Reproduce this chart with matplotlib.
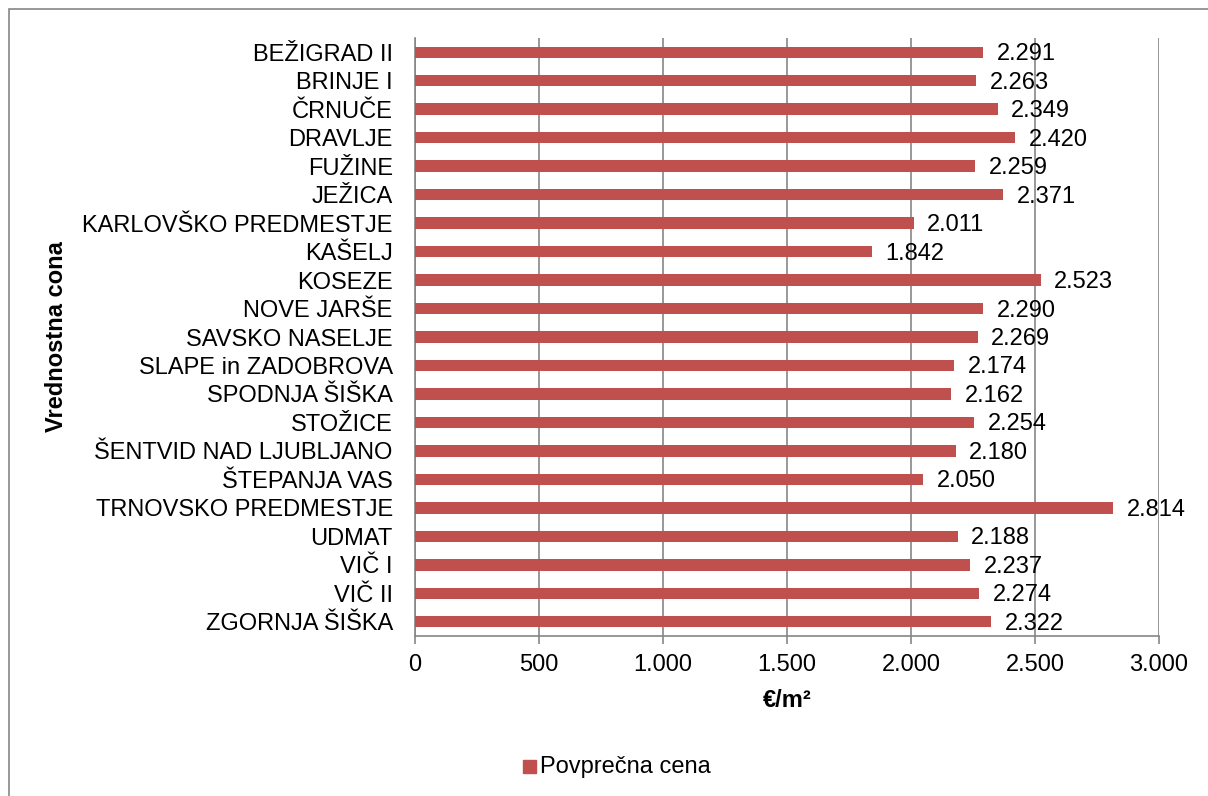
import matplotlib.pyplot as plt
from matplotlib.patches import Rectangle

plt.rcParams['font.family'] = ['Liberation Sans', 'DejaVu Sans']

cone = ['BEŽIGRAD II', 'BRINJE I', 'ČRNUČE', 'DRAVLJE', 'FUŽINE', 'JEŽICA',
        'KARLOVŠKO PREDMESTJE', 'KAŠELJ', 'KOSEZE', 'NOVE JARŠE',
        'SAVSKO NASELJE', 'SLAPE in ZADOBROVA', 'SPODNJA ŠIŠKA', 'STOŽICE',
        'ŠENTVID NAD LJUBLJANO', 'ŠTEPANJA VAS', 'TRNOVSKO PREDMESTJE',
        'UDMAT', 'VIČ I', 'VIČ II', 'ZGORNJA ŠIŠKA']
cena = [2291, 2263, 2349, 2420, 2259, 2371, 2011, 1842, 2523, 2290,
        2269, 2174, 2162, 2254, 2180, 2050, 2814, 2188, 2237, 2274, 2322]

x_ticks = [0, 500, 1000, 1500, 2000, 2500, 3000]
x_tick_labels = ['0', '500', '1.000', '1.500', '2.000', '2.500', '3.000']

barva = '#C0504D'
siva = '#868686'
fs = 17

fig = plt.figure(figsize=(12.08, 7.96), dpi=100)
ax = fig.add_axes([415 / 1208, 1 - 636 / 796, 744 / 1208, 598 / 796])

# okvir grafikona
fig.patches.append(Rectangle((9 / 1208, -0.01), 1.01, 1 - 9 / 796 + 0.01,
                             transform=fig.transFigure, fill=False,
                             edgecolor=siva, linewidth=1.2))

y = range(len(cone))
ax.barh(y, cena, height=0.4, color=barva, zorder=3)
for i, v in enumerate(cena):
    ax.text(v + 55, i + 0.07, f'{v:,}'.replace(',', '.'), va='center',
            ha='left', fontsize=fs, zorder=4)

ax.set_ylim(len(cone) - 0.5, -0.5)
ax.set_yticks(list(y))
ax.set_yticklabels(cone, fontsize=fs)
ax.tick_params(axis='y', length=0, pad=16)

ax.set_xlim(0, 3000)
ax.set_xticks(x_ticks)
ax.set_xticklabels(x_tick_labels, fontsize=fs)
ax.tick_params(axis='x', length=6, color=siva, width=1.2, pad=7)

ax.grid(axis='x', color=siva, linewidth=1.2, zorder=0)
for s in ['top', 'right']:
    ax.spines[s].set_visible(False)
for s in ['left', 'bottom']:
    ax.spines[s].set_color(siva)
    ax.spines[s].set_linewidth(1.2)

ax.set_xlabel('€/m²', fontsize=fs, fontweight='bold', labelpad=9)
fig.text(57 / 1208, 1 - 337 / 796, 'Vrednostna cona', rotation=90,
         fontsize=fs, fontweight='bold', ha='center', va='center')

# legenda
fig.patches.append(Rectangle((523 / 1208, 1 - 773 / 796), 13 / 1208, 13 / 796,
                             transform=fig.transFigure, color=barva))
fig.text(540 / 1208, 1 - 767 / 796, 'Povprečna cena', fontsize=fs,
         ha='left', va='center')

fig.savefig('out.png', dpi=100)
